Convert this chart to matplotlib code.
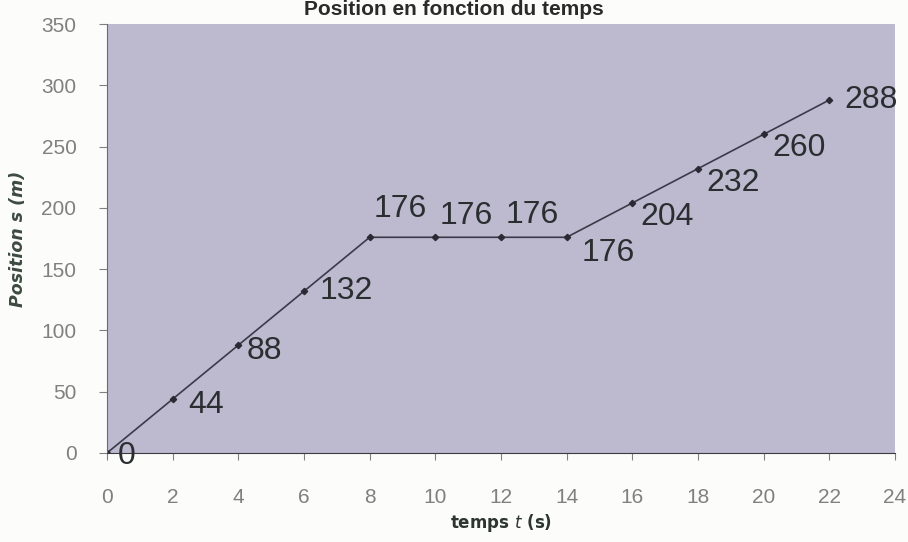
import matplotlib
matplotlib.use("Agg")
import matplotlib.pyplot as plt

t = [0, 2, 4, 6, 8, 10, 12, 14, 16, 18, 20, 22]
s = [0, 44, 88, 132, 176, 176, 176, 176, 204, 232, 260, 288]
x_ticks = [0, 2, 4, 6, 8, 10, 12, 14, 16, 18, 20, 22, 24]
y_ticks = [0, 50, 100, 150, 200, 250, 300, 350]
title = "Position en fonction du temps"
xlabel = "temps $\\it{t}$ (s)"
ylabel = "Position s (m)"

font = ["Liberation Sans", "DejaVu Sans"]

# label offsets (points) relative to each point
offsets = [(8, -2), (11, -4), (6, -4), (11, 0), (3, 20), (3, 15), (3, 16), (11, -11),
           (6, -10), (6, -10), (6, -10), (11, 0)]

fig = plt.figure(figsize=(9.08, 5.42), dpi=100)
fig.patch.set_facecolor("#fcfcfb")
ax = fig.add_axes([107/908, 1-453/542, (895-107)/908, (453-24)/542])
ax.set_facecolor("#bdbad0")

ax.plot(t, s, color="#3b3a48", lw=1.2, marker="D", ms=3.2, mec="#2a2a35", mfc="#2a2a35")
for xi, yi, off in zip(t, s, offsets):
    ax.annotate(str(yi), (xi, yi), xytext=off, textcoords="offset points",
                ha="left", va="center", fontsize=23, color="#2a2e30", family=font)

ax.set_xlim(0, 24)
ax.set_ylim(0, 350)
ax.set_xticks(x_ticks)
ax.set_yticks(y_ticks)
ax.tick_params(axis="both", labelsize=15, colors="#808080", labelcolor="#808080")
for lab in ax.get_xticklabels() + ax.get_yticklabels():
    lab.set_family(font)
ax.tick_params(axis="x", direction="out", length=5, pad=20)
ax.tick_params(axis="y", direction="out", length=6, pad=16)
for sp in ["top", "right"]:
    ax.spines[sp].set_visible(False)
ax.spines["left"].set_color("#6a6a70")
ax.spines["bottom"].set_color("#3a3a40")

ax.set_xlabel(xlabel, fontsize=12, weight="bold", color="#2d3530", labelpad=4)
ax.set_ylabel(ylabel, fontsize=12.5, weight="bold", style="italic", color="#3d4a40", labelpad=10)

fig.text(0.5, 1.0, title, ha="center", va="top", fontsize=15,
         weight="bold", color="#2a2a2a", family=font)

fig.savefig("out.png", dpi=100, facecolor=fig.get_facecolor())
